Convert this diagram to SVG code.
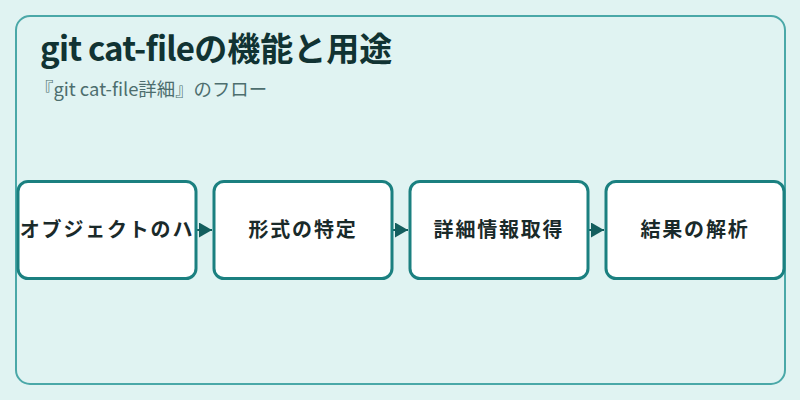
<svg xmlns="http://www.w3.org/2000/svg" width="800" height="400" viewBox="0 0 800 400">
<style>
.title{font-family:"Noto Sans CJK JP",sans-serif;font-weight:700;font-size:33px;fill:#113333}
.lat{letter-spacing:-0.8px}
.sub{font-family:"Noto Sans CJK JP",sans-serif;font-size:18.4px;fill:#4d6e6e}
.box{fill:#ffffff;stroke:#1b8080;stroke-width:3}
.lbl{font-family:"Noto Sans CJK JP",sans-serif;font-weight:700;font-size:20px;fill:#1a2a2a;text-anchor:middle;letter-spacing:1.8px}
.conn{stroke:#135e5e;stroke-width:2;fill:none}
</style>
<defs>
<marker id="arr" markerWidth="13" markerHeight="15" refX="13" refY="7.5" orient="auto" markerUnits="userSpaceOnUse">
<path d="M0,0 L13,7.5 L0,15 Z" fill="#135e5e"/>
</marker>
</defs>
<rect x="0" y="0" width="800" height="400" fill="#e0f3f2"/>
<rect x="16" y="16" width="769" height="368" rx="14" fill="#e0f3f2" stroke="#4aa8a8" stroke-width="2"/>
<text class="title" x="40" y="61"><tspan class="lat">git cat-file</tspan>の機能と用途</text>
<text class="sub" x="35" y="96">『git cat-file詳細』のフロー</text>
<g id="connectors">
<line class="conn" x1="197" y1="230" x2="212" y2="230" marker-end="url(#arr)"/>
<line class="conn" x1="393" y1="230" x2="408" y2="230" marker-end="url(#arr)"/>
<line class="conn" x1="589" y1="230" x2="604" y2="230" marker-end="url(#arr)"/>
</g>
<g id="node1">
<rect class="box" x="18" y="181.5" width="178" height="97" rx="10"/>
<text class="lbl" x="107" y="237">オブジェクトのハ</text>
</g>
<g id="node2">
<rect class="box" x="214" y="181.5" width="178" height="97" rx="10"/>
<text class="lbl" x="303" y="237">形式の特定</text>
</g>
<g id="node3">
<rect class="box" x="410" y="181.5" width="178" height="97" rx="10"/>
<text class="lbl" x="499" y="237">詳細情報取得</text>
</g>
<g id="node4">
<rect class="box" x="606" y="181.5" width="178" height="97" rx="10"/>
<text class="lbl" x="695" y="237">結果の解析</text>
</g>
</svg>
